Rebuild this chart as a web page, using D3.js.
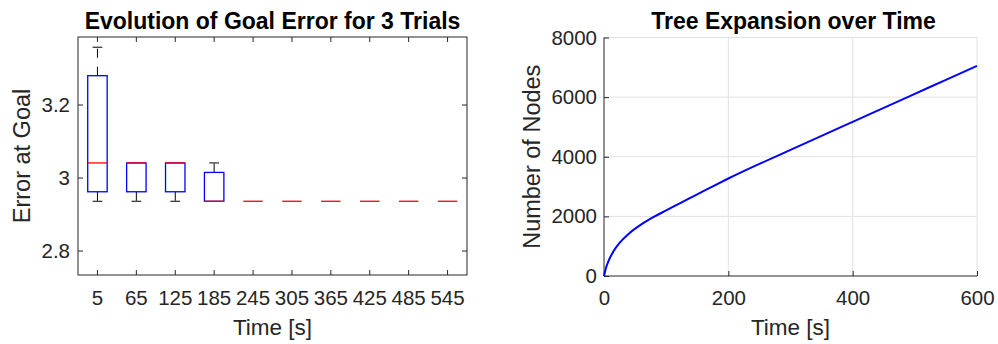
<!DOCTYPE html>
<html>
<head>
<meta charset="utf-8">
<script src="https://cdn.jsdelivr.net/npm/d3@7"></script>
<style>
  body { margin: 0; background: #fff; }
  text { font-family: "Liberation Sans", Arial, sans-serif; fill: #262626; }
</style>
</head>
<body>
<div id="chart"></div>
<script>
// left panel: box stats per time step (3 trials each)
const boxTimes = [5, 65, 125, 185, 245, 305, 365, 425, 485, 545];
const whiskerLow = [2.935, 2.935, 2.935, 2.935, 2.935, 2.935, 2.935, 2.935, 2.935, 2.935];
const q1 = [2.961, 2.961, 2.961, 2.935, 2.935, 2.935, 2.935, 2.935, 2.935, 2.935];
const median = [3.040, 3.040, 3.040, 2.935, 2.935, 2.935, 2.935, 2.935, 2.935, 2.935];
const q3 = [3.279, 3.040, 3.040, 3.014, 2.935, 2.935, 2.935, 2.935, 2.935, 2.935];
const whiskerHigh = [3.357, 3.040, 3.040, 3.040, 2.935, 2.935, 2.935, 2.935, 2.935, 2.935];
const errTicks = [2.8, 3, 3.2];

// right panel: tree size over time
const timeSec = [0, 3, 8, 15, 25, 40, 60, 80, 100, 125, 150, 175, 200, 250, 300, 350, 400, 450, 500, 550, 600];
const nodeCount = [0, 260, 540, 820, 1110, 1420, 1730, 1980, 2200, 2470, 2740, 3010, 3270, 3760, 4230, 4700, 5170, 5640, 6110, 6580, 7050];
const timeTicks = [0, 200, 400, 600];
const nodeTicks = [0, 2000, 4000, 6000, 8000];

const W = 998, H = 344;
const axisColor = '#262626';
const tickFont = 20.5, labelFont = 22.5, titleFont = 23;

const svg = d3.select('#chart').append('svg')
  .attr('width', W)
  .attr('height', H);

function styleAxis(g) {
  g.select('.domain').remove();
  g.selectAll('line').attr('stroke', axisColor);
  g.selectAll('text')
    .attr('font-size', tickFont)
    .attr('font-family', '"Liberation Sans", Arial, sans-serif')
    .attr('fill', axisColor);
}

// ---------- left: boxplot ----------
const L = { x0: 78, x1: 467, y0: 37, y1: 275 };
const xBand = d3.scaleBand().domain(boxTimes).range([L.x0, L.x1]).paddingInner(0).paddingOuter(0);
const yErr = d3.scaleLinear().domain([2.733, 3.385]).range([L.y1, L.y0]);
const boxW = xBand.bandwidth() * 0.5;
const cx = i => xBand(boxTimes[i]) + xBand.bandwidth() / 2;

const left = svg.append('g');

left.append('g')
  .attr('transform', `translate(0,${L.y1})`)
  .call(d3.axisBottom(xBand).tickSizeInner(-5).tickSizeOuter(0).tickPadding(15))
  .call(styleAxis);
left.append('g')
  .attr('transform', `translate(0,${L.y0})`)
  .call(d3.axisTop(xBand).tickSizeInner(-5).tickSizeOuter(0).tickFormat(''))
  .call(styleAxis);
left.append('g')
  .attr('transform', `translate(${L.x0},0)`)
  .call(d3.axisLeft(yErr).tickValues(errTicks).tickSizeInner(-5).tickSizeOuter(0).tickPadding(8).tickFormat(d3.format('~g')))
  .call(styleAxis);
left.append('g')
  .attr('transform', `translate(${L.x1},0)`)
  .call(d3.axisRight(yErr).tickValues(errTicks).tickSizeInner(-5).tickSizeOuter(0).tickFormat(''))
  .call(styleAxis);
left.append('rect')
  .attr('x', L.x0).attr('y', L.y0)
  .attr('width', L.x1 - L.x0).attr('height', L.y1 - L.y0)
  .attr('fill', 'none').attr('stroke', axisColor).attr('stroke-width', 1);

const boxes = left.append('g').selectAll('g')
  .data(boxTimes.map((t, i) => i))
  .join('g');

// whiskers (dashed) + caps
boxes.append('line')
  .attr('x1', cx).attr('x2', cx)
  .attr('y1', i => yErr(q3[i])).attr('y2', i => yErr(whiskerHigh[i]))
  .attr('stroke', '#000').attr('stroke-dasharray', '9,9');
boxes.append('line')
  .attr('x1', cx).attr('x2', cx)
  .attr('y1', i => yErr(q1[i])).attr('y2', i => yErr(whiskerLow[i]))
  .attr('stroke', '#000').attr('stroke-dasharray', '9,9');
boxes.filter(i => whiskerHigh[i] > q3[i]).append('line')
  .attr('x1', i => cx(i) - boxW / 4).attr('x2', i => cx(i) + boxW / 4)
  .attr('y1', i => yErr(whiskerHigh[i])).attr('y2', i => yErr(whiskerHigh[i]))
  .attr('stroke', '#000');
boxes.filter(i => whiskerLow[i] < q1[i]).append('line')
  .attr('x1', i => cx(i) - boxW / 4).attr('x2', i => cx(i) + boxW / 4)
  .attr('y1', i => yErr(whiskerLow[i])).attr('y2', i => yErr(whiskerLow[i]))
  .attr('stroke', '#000');
boxes.append('rect')
  .attr('x', i => cx(i) - boxW / 2)
  .attr('y', i => yErr(q3[i]))
  .attr('width', boxW)
  .attr('height', i => yErr(q1[i]) - yErr(q3[i]))
  .attr('fill', 'none')
  .attr('stroke', '#0000ff').attr('stroke-width', 1.3);
boxes.append('line')
  .attr('x1', i => cx(i) - boxW / 2).attr('x2', i => cx(i) + boxW / 2)
  .attr('y1', i => yErr(median[i])).attr('y2', i => yErr(median[i]))
  .attr('stroke', '#ff0000').attr('stroke-width', 1.3);

left.append('text')
  .attr('x', (L.x0 + L.x1) / 2).attr('y', 29)
  .attr('text-anchor', 'middle')
  .attr('font-size', titleFont).attr('font-weight', 'bold').style('fill', '#000')
  .text('Evolution of Goal Error for 3 Trials');
left.append('text')
  .attr('x', (L.x0 + L.x1) / 2).attr('y', 335)
  .attr('text-anchor', 'middle')
  .attr('font-size', labelFont)
  .text('Time [s]');
left.append('text')
  .attr('transform', `translate(30,${(L.y0 + L.y1) / 2}) rotate(-90)`)
  .attr('text-anchor', 'middle')
  .attr('font-size', 23.5)
  .text('Error at Goal');

// ---------- right: tree expansion ----------
const R = { x0: 604, x1: 977, y0: 37.5, y1: 276 };
const xT = d3.scaleLinear().domain([0, 600]).range([R.x0, R.x1]);
const yN = d3.scaleLinear().domain([0, 8000]).range([R.y1, R.y0]);

const right = svg.append('g');

// grid
right.append('g').selectAll('line')
  .data(timeTicks.filter(d => d > 0))
  .join('line')
  .attr('x1', d => xT(d)).attr('x2', d => xT(d))
  .attr('y1', R.y0).attr('y2', R.y1)
  .attr('stroke', '#e2e2e2');
right.append('g').selectAll('line')
  .data(nodeTicks.filter(d => d > 0))
  .join('line')
  .attr('x1', R.x0).attr('x2', R.x1)
  .attr('y1', d => yN(d)).attr('y2', d => yN(d))
  .attr('stroke', '#e2e2e2');

right.append('g')
  .attr('transform', `translate(0,${R.y1})`)
  .call(d3.axisBottom(xT).tickValues(timeTicks).tickSizeInner(-5).tickSizeOuter(0).tickPadding(14))
  .call(styleAxis);
right.append('g')
  .attr('transform', `translate(${R.x0},0)`)
  .call(d3.axisLeft(yN).tickValues(nodeTicks).tickSizeInner(-5).tickSizeOuter(0).tickPadding(7).tickFormat(d3.format('d')))
  .call(styleAxis);
right.append('line')
  .attr('x1', R.x0).attr('x2', R.x1).attr('y1', R.y1).attr('y2', R.y1)
  .attr('stroke', axisColor);
right.append('line')
  .attr('x1', R.x0).attr('x2', R.x0).attr('y1', R.y0).attr('y2', R.y1)
  .attr('stroke', axisColor);

const line = d3.line()
  .x((d, i) => xT(timeSec[i]))
  .y(d => yN(d))
  .curve(d3.curveMonotoneX);
right.append('path')
  .datum(nodeCount)
  .attr('d', line)
  .attr('fill', 'none')
  .attr('stroke', '#0000ff')
  .attr('stroke-width', 2);

right.append('text')
  .attr('x', (R.x0 + R.x1) / 2 + 3).attr('y', 29)
  .attr('text-anchor', 'middle')
  .attr('font-size', titleFont).attr('font-weight', 'bold').style('fill', '#000')
  .text('Tree Expansion over Time');
right.append('text')
  .attr('x', (R.x0 + R.x1) / 2).attr('y', 335)
  .attr('text-anchor', 'middle')
  .attr('font-size', labelFont)
  .text('Time [s]');
right.append('text')
  .attr('transform', `translate(540,${(R.y0 + R.y1) / 2}) rotate(-90)`)
  .attr('text-anchor', 'middle')
  .attr('font-size', 23.5)
  .text('Number of Nodes');
</script>
</body>
</html>
